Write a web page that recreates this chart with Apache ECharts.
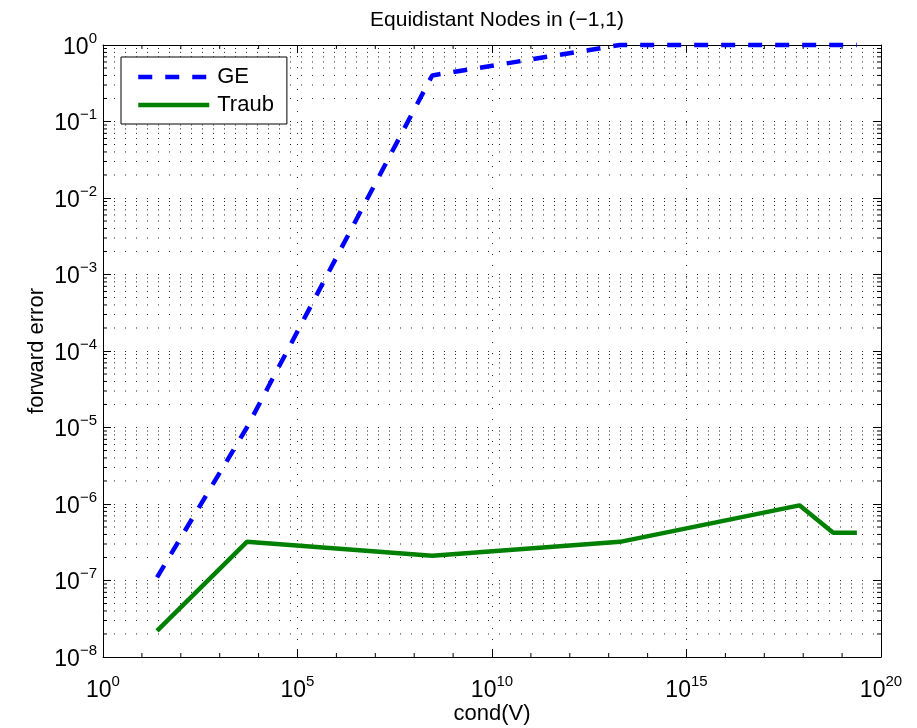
<!DOCTYPE html>
<html>
<head>
<meta charset="utf-8">
<script src="https://cdn.jsdelivr.net/npm/echarts@6/dist/echarts.min.js"></script>
<style>html,body{margin:0;padding:0;background:#fff}#c{width:917px;height:728px}</style>
</head>
<body>
<div id="c"></div>
<script>
// ---- data ----
const condV   = [24.5, 5.0e3, 2.9e8, 1.95e13, 8.0e17, 5.9e18, 2.4e19];
const geErr    = [1.1e-7, 1.0e-5, 0.4, 1.0, 1.0, 1.0, 1.0];
const traubErr = [2.2e-8, 3.2e-7, 2.1e-7, 3.2e-7, 9.6e-7, 4.2e-7, 4.2e-7];
const seriesNames = ['GE', 'Traub'];
const xExpTicks = [0, 5, 10, 15, 20];
const yExpTicks = [-8, -7, -6, -5, -4, -3, -2, -1, 0];
const titleText = 'Equidistant Nodes in (\u22121,1)';
const xName = 'cond(V)';
const yName = 'forward error';

const FONT = '"Liberation Sans", Arial, sans-serif';
const X0 = 1, X1 = 1e20, Y0 = 1e-8, Y1 = 1;

// minor grid (2..9 x 10^k on y) and decade ticks on x
const minorItems = [];
for (let e = yExpTicks[0]; e < yExpTicks[yExpTicks.length - 1]; e++) {
  for (let m = 2; m <= 9; m++) minorItems.push([X0, m * Math.pow(10, e), 0]);
}
for (let k = xExpTicks[0] + 1; k < xExpTicks[xExpTicks.length - 1]; k++) {
  if (xExpTicks.indexOf(k) < 0) minorItems.push([Math.pow(10, k), Y0, 1]);
}

function expLabel(v) {
  const e = Math.round(Math.log10(v));
  return '{b|10}{s|' + String(e).replace('-', '\u2212') + '}';
}
const rich = {
  b: { fontSize: 23, fontFamily: FONT, color: '#000', lineHeight: 28, verticalAlign: 'bottom' },
  s: { fontSize: 15, fontFamily: FONT, color: '#000', lineHeight: 15, verticalAlign: 'top' }
};
const dotted = { color: '#222', width: 1, type: [1, 10] };

const chart = echarts.init(document.getElementById('c'), null, { renderer: 'canvas' });
chart.setOption({
  animation: false,
  backgroundColor: '#fff',
  title: {
    text: titleText, left: 492, top: 5, textAlign: 'center',
    textStyle: { fontSize: 21, fontWeight: 'normal', color: '#000', fontFamily: FONT }
  },
  grid: { left: 103, right: 36, top: 45, bottom: 71, containLabel: false, outerBoundsMode: 'none' },
  legend: {
    data: seriesNames, orient: 'vertical', left: 121, top: 57,
    backgroundColor: '#fff', borderColor: '#000', borderWidth: 1, borderRadius: 0,
    padding: [9, 13, 8, 15], itemGap: 6, itemWidth: 71, itemHeight: 14,
    itemStyle: { opacity: 0 },
    lineStyle: { width: 4.5 },
    textStyle: { fontSize: 22, fontFamily: FONT, color: '#000', lineHeight: 22, padding: [0, 0, 0, 3] }
  },
  xAxis: [{
    type: 'log', logBase: 10, min: X0, max: X1, interval: 5, splitNumber: 4,
    name: xName, nameLocation: 'middle', nameGap: 46, nameMoveOverlap: false,
    nameTextStyle: { fontSize: 22, fontFamily: FONT, color: '#000' },
    axisLine: { show: true, lineStyle: { color: '#000', width: 1 } },
    axisTick: { show: true, inside: true, length: 8, lineStyle: { color: '#000' } },
    axisLabel: { formatter: expLabel, rich: rich, margin: 17 },
    splitLine: { show: true, lineStyle: dotted }
  }, {
    type: 'log', logBase: 10, min: X0, max: X1, interval: 5, splitNumber: 4, position: 'top',
    axisLine: { show: true, lineStyle: { color: '#000', width: 1 } },
    axisTick: { show: true, inside: true, length: 8, lineStyle: { color: '#000' } },
    axisLabel: { show: false }, splitLine: { show: false }
  }],
  yAxis: [{
    type: 'log', logBase: 10, min: Y0, max: Y1, interval: 1, splitNumber: 8,
    name: yName, nameLocation: 'middle', nameGap: 55, nameRotate: 90, nameMoveOverlap: false,
    nameTextStyle: { fontSize: 22, fontFamily: FONT, color: '#000' },
    axisLine: { show: true, lineStyle: { color: '#000', width: 1 } },
    axisTick: { show: true, inside: true, length: 8, lineStyle: { color: '#000' } },
    axisLabel: { formatter: expLabel, rich: rich, margin: 6 },
    splitLine: { show: true, lineStyle: dotted }
  }, {
    type: 'log', logBase: 10, min: Y0, max: Y1, interval: 1, splitNumber: 8, position: 'right',
    axisLine: { show: true, lineStyle: { color: '#000', width: 1 } },
    axisTick: { show: true, inside: true, length: 8, lineStyle: { color: '#000' } },
    axisLabel: { show: false }, splitLine: { show: false }
  }],
  series: [{
    type: 'custom', name: 'minor', silent: true, clip: false, z: 1,
    data: minorItems,
    renderItem: function (params, api) {
      const v0 = api.value(0), v1 = api.value(1), kind = api.value(2);
      const ls = { stroke: '#000', lineWidth: 1 };
      if (kind === 0) {
        const a = api.coord([X0, v1]), b = api.coord([X1, v1]);
        return { type: 'group', children: [
          { type: 'line', shape: { x1: a[0], y1: a[1], x2: b[0], y2: b[1] }, style: { stroke: '#222', lineWidth: 1, lineDash: [1, 10] } },
          { type: 'line', shape: { x1: a[0], y1: a[1], x2: a[0] + 4, y2: a[1] }, style: ls },
          { type: 'line', shape: { x1: b[0] - 4, y1: b[1], x2: b[0], y2: b[1] }, style: ls }
        ]};
      } else {
        const a = api.coord([v0, Y0]), b = api.coord([v0, Y1]);
        return { type: 'group', children: [
          { type: 'line', shape: { x1: a[0], y1: a[1], x2: a[0], y2: a[1] - 4 }, style: ls },
          { type: 'line', shape: { x1: b[0], y1: b[1], x2: b[0], y2: b[1] + 4 }, style: ls }
        ]};
      }
    }
  }, {
    type: 'line', name: seriesNames[0], showSymbol: false, symbol: 'none', clip: false, z: 3,
    data: condV.map((x, i) => [x, geErr[i]]),
    lineStyle: { color: '#0000ff', width: 4.5, type: [14, 13], cap: 'butt' },
    itemStyle: { color: '#0000ff' }
  }, {
    type: 'line', name: seriesNames[1], showSymbol: false, symbol: 'none', clip: false, z: 3,
    data: condV.map((x, i) => [x, traubErr[i]]),
    lineStyle: { color: '#008000', width: 4.5, type: 'solid' },
    itemStyle: { color: '#008000' }
  }]
});
</script>
</body>
</html>
